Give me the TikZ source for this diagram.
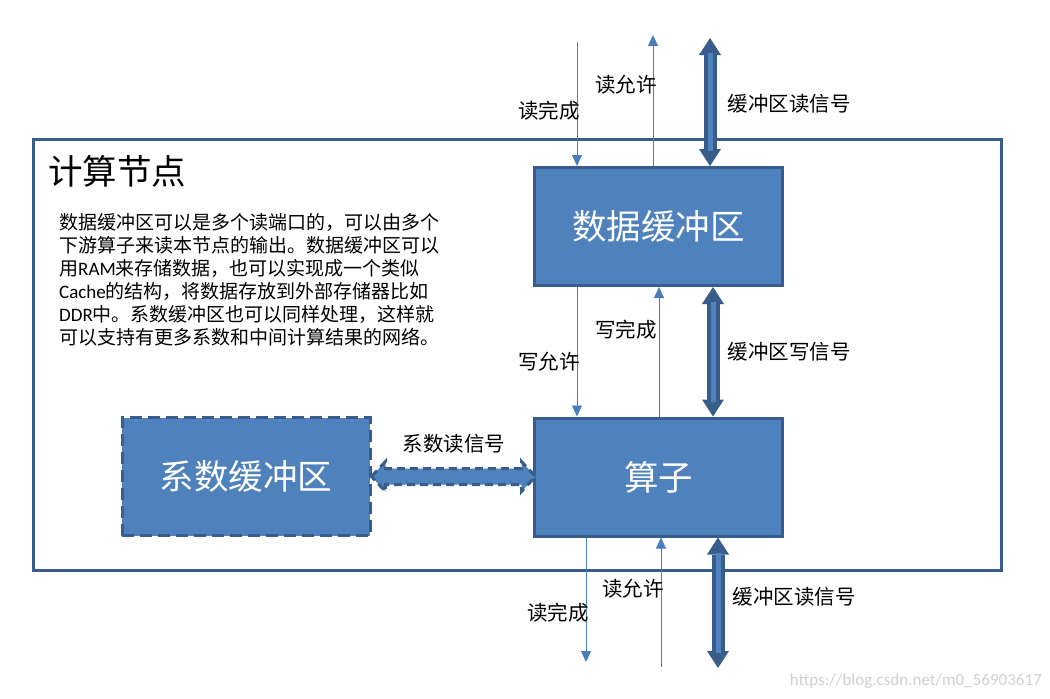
\documentclass[tikz,border=0pt]{standalone}
\usepackage{fontspec}
\usepackage{tikz}
\setmainfont{Noto Sans CJK SC}
\newfontfamily\latfont{Carlito}
\usetikzlibrary{arrows.meta}
\definecolor{boxfill}{HTML}{4F81BD}
\definecolor{boxline}{HTML}{385D8A}
\definecolor{wire}{HTML}{4A7EBB}
\definecolor{wmgray}{HTML}{D0D0D0}

\begin{document}
\begin{tikzpicture}[
      x=1pt, y=-1pt,
      blk/.style={draw=boxline, fill=boxfill, line width=3pt,
                  minimum width=248pt, minimum height=118pt, inner sep=0pt,
                  text=white, font=\fontsize{34.5}{40}\selectfont},
      sig/.style={draw=wire, line width=0.8pt,
                  -{Triangle[width=10pt,length=11pt]}},
      busout/.style={draw=boxline, line width=13pt,
                  {Triangle[width=22pt,length=17pt,line width=0pt]}-{Triangle[width=22pt,length=17pt,line width=0pt]}},
      busin/.style={draw=boxfill, line width=5pt,
                  shorten <=15pt, shorten >=15pt},
      coefbus/.style={draw=boxline, fill=boxfill, line width=3pt,
                  dash pattern=on 8pt off 5pt},
      lbl/.style={font=\fontsize{20.5}{24}\selectfont, inner sep=0pt},
    ]
      \useasboundingbox (0,0) rectangle (1050,699);

      % frame of the node
      \node[draw=boxline, line width=3pt, minimum width=968pt,
            minimum height=431pt, inner sep=0pt] (frame) at (517,354.5) {};
      \node[anchor=west, font=\fontsize{34.5}{40}\selectfont, inner sep=0pt]
            (title) at (48,171) {计算节点};
      \node[anchor=north west, align=left, inner sep=0pt,
            font=\fontsize{19}{23}\selectfont] (note) at (59,213) {%
        数据缓冲区可以是多个读端口的，可以由多个\\
        下游算子来读本节点的输出。数据缓冲区可以\\
        用{\latfont RAM}来存储数据，也可以实现成一个类似\\
        {\latfont Cache}的结构，将数据存放到外部存储器比如\\
        {\latfont DDR}中。系数缓冲区也可以同样处理，这样就\\
        可以支持有更多系数和中间计算结果的网络。
      };

      % blocks
      \node[blk] (dbuf) at (658.5,226.5) {数据缓冲区};
      \node[blk] (op) at (658.5,477) {算子};
      \node[blk, dash pattern=on 12pt off 6pt] (coef) at (246,476.5) {系数缓冲区};

      % free ends
      \coordinate (rdin) at (577,42);
      \coordinate (raout) at (653,35);
      \coordinate (rbtop) at (710,38);
      \coordinate (rdout) at (586,662);
      \coordinate (rain) at (661,667);
      \coordinate (rbbot) at (718,668);

      % top port
      \draw[sig] (rdin) -- ([xshift=44pt]dbuf.north west);
      \draw[sig] ([xshift=120pt]dbuf.north west) -- (raout);
      \draw[busout] ([xshift=177pt]dbuf.north west) -- (rbtop);
      \draw[busin] ([xshift=177pt]dbuf.north west) -- (rbtop);
      \node[lbl] (l1) at (549,111) {读完成};
      \node[lbl] (l2) at (626,85) {读允许};
      \node[lbl] (l3) at (789,104) {缓冲区读信号};

      % between buffer and operator
      \draw[sig] ([xshift=44pt]dbuf.south west) -- ([xshift=44pt]op.north west);
      \draw[sig] ([xshift=126pt]op.north west) -- ([xshift=126pt]dbuf.south west);
      \draw[busout] ([xshift=180pt]dbuf.south west) -- ([xshift=180pt]op.north west);
      \draw[busin] ([xshift=180pt]dbuf.south west) -- ([xshift=180pt]op.north west);
      \node[lbl] (l4) at (626,330) {写完成};
      \node[lbl] (l5) at (549,362) {写允许};
      \node[lbl] (l6) at (789,352) {缓冲区写信号};

      % bottom port
      \draw[sig] ([xshift=53pt]op.south west) -- (rdout);
      \draw[sig] (rain) -- ([xshift=128pt]op.south west);
      \draw[busout] ([xshift=185pt]op.south west) -- (rbbot);
      \draw[busin] ([xshift=185pt]op.south west) -- (rbbot);
      \node[lbl] (l7) at (633,589) {读允许};
      \node[lbl] (l8) at (558,613) {读完成};
      \node[lbl] (l9) at (794,597) {缓冲区读信号};

      % coefficient read
      \draw[coefbus] (coef.east) -- ++(14,-15) -- ++(0,7) -- ++(136,0)
        -- ++(0,-7) -- ++(14,15) -- ++(-14,15) -- ++(0,-7) -- ++(-136,0)
        -- ++(0,7) -- cycle;
      \node[lbl] (l10) at (454,444) {系数读信号};

      \node[anchor=east, inner sep=0pt, text=wmgray,
            font=\latfont\fontsize{17}{20}\selectfont] (wm) at (1042,681)
            {https://blog.csdn.net/m0\_56903617};
    \end{tikzpicture}
\end{document}
